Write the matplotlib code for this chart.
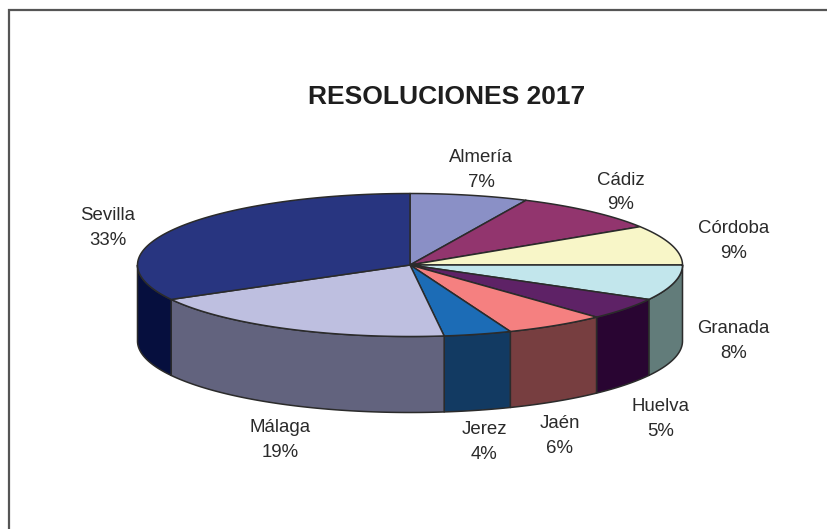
import numpy as np
import matplotlib
matplotlib.use("Agg")
import matplotlib.pyplot as plt
from matplotlib.patches import Polygon

categories = ["Almería", "Cádiz", "Córdoba", "Granada", "Huelva", "Jaén", "Jerez", "Málaga", "Sevilla"]
percentages = [7, 9, 9, 8, 5, 6, 4, 19, 33]
top_colors = ["#8A90C6", "#92356E", "#F8F6C8", "#C2E6EC", "#5E2266", "#F58080", "#1C6CB6", "#BEBFE0", "#283580"]
side_colors = ["#5A5F8A", "#60234A", "#A8A688", "#627C7A", "#290532", "#773E40", "#123A62", "#62637E", "#060F3E"]
title = "RESOLUCIONES 2017"
label_xy = [(481, 170), (620.5, 192.5), (733.5, 241), (733.5, 341), (660.5, 419), (559.5, 436), (484, 442), (280.5, 440), (108, 228)]

W, H = 828, 529
CX, CY, RX, RY, DEPTH = 410, 265, 272.5, 71.5, 76
EDGE = "#2B2B2B"
TEXT = "#2A2A2A"
plt.rcParams["font.family"] = ["Liberation Sans", "DejaVu Sans"]

fig = plt.figure(figsize=(W / 100, H / 100), dpi=100)
ax = fig.add_axes([0, 0, 1, 1])
ax.set_xlim(0, W)
ax.set_ylim(H, 0)
ax.axis("off")

# figure frame (open towards right and bottom edges of the picture)
ax.plot([9.5, 9.5, W], [H, 10, 10], color="#555555", lw=1.6, solid_joinstyle="miter")


def rim(a0, a1, n=120):
    t = np.radians(np.linspace(a0, a1, n))
    return CX + RX * np.sin(t), CY - RY * np.cos(t)


edges = 3.6 * np.cumsum([0] + percentages)

# visible outer walls: front half of the ellipse (90..270 degrees clockwise from top)
for i, (a0, a1) in enumerate(zip(edges[:-1], edges[1:])):
    lo, hi = max(a0, 90), min(a1, 270)
    if hi <= lo:
        continue
    x, y = rim(lo, hi)
    ax.add_patch(Polygon(np.c_[np.r_[x, x[::-1]], np.r_[y, y[::-1] + DEPTH]],
                         closed=True, fc=side_colors[i], ec=EDGE, lw=1.1, joinstyle="round", zorder=2))

# top faces
for i, (a0, a1) in enumerate(zip(edges[:-1], edges[1:])):
    x, y = rim(a0, a1)
    ax.add_patch(Polygon(np.c_[np.r_[CX, x], np.r_[CY, y]], closed=True,
                         fc=top_colors[i], ec=EDGE, lw=1.1, joinstyle="round", zorder=3))

for name, pct, (lx, ly) in zip(categories, percentages, label_xy):
    ax.text(lx, ly, f"{name}\n{pct}%", ha="center", va="center", fontsize=13.4,
            color=TEXT, linespacing=1.6, zorder=5)

ax.text(447, 97.5, title, ha="center", va="center", fontsize=19, fontweight="bold", color="#1E1E1E")

fig.savefig("out.png", dpi=100, facecolor="white")
